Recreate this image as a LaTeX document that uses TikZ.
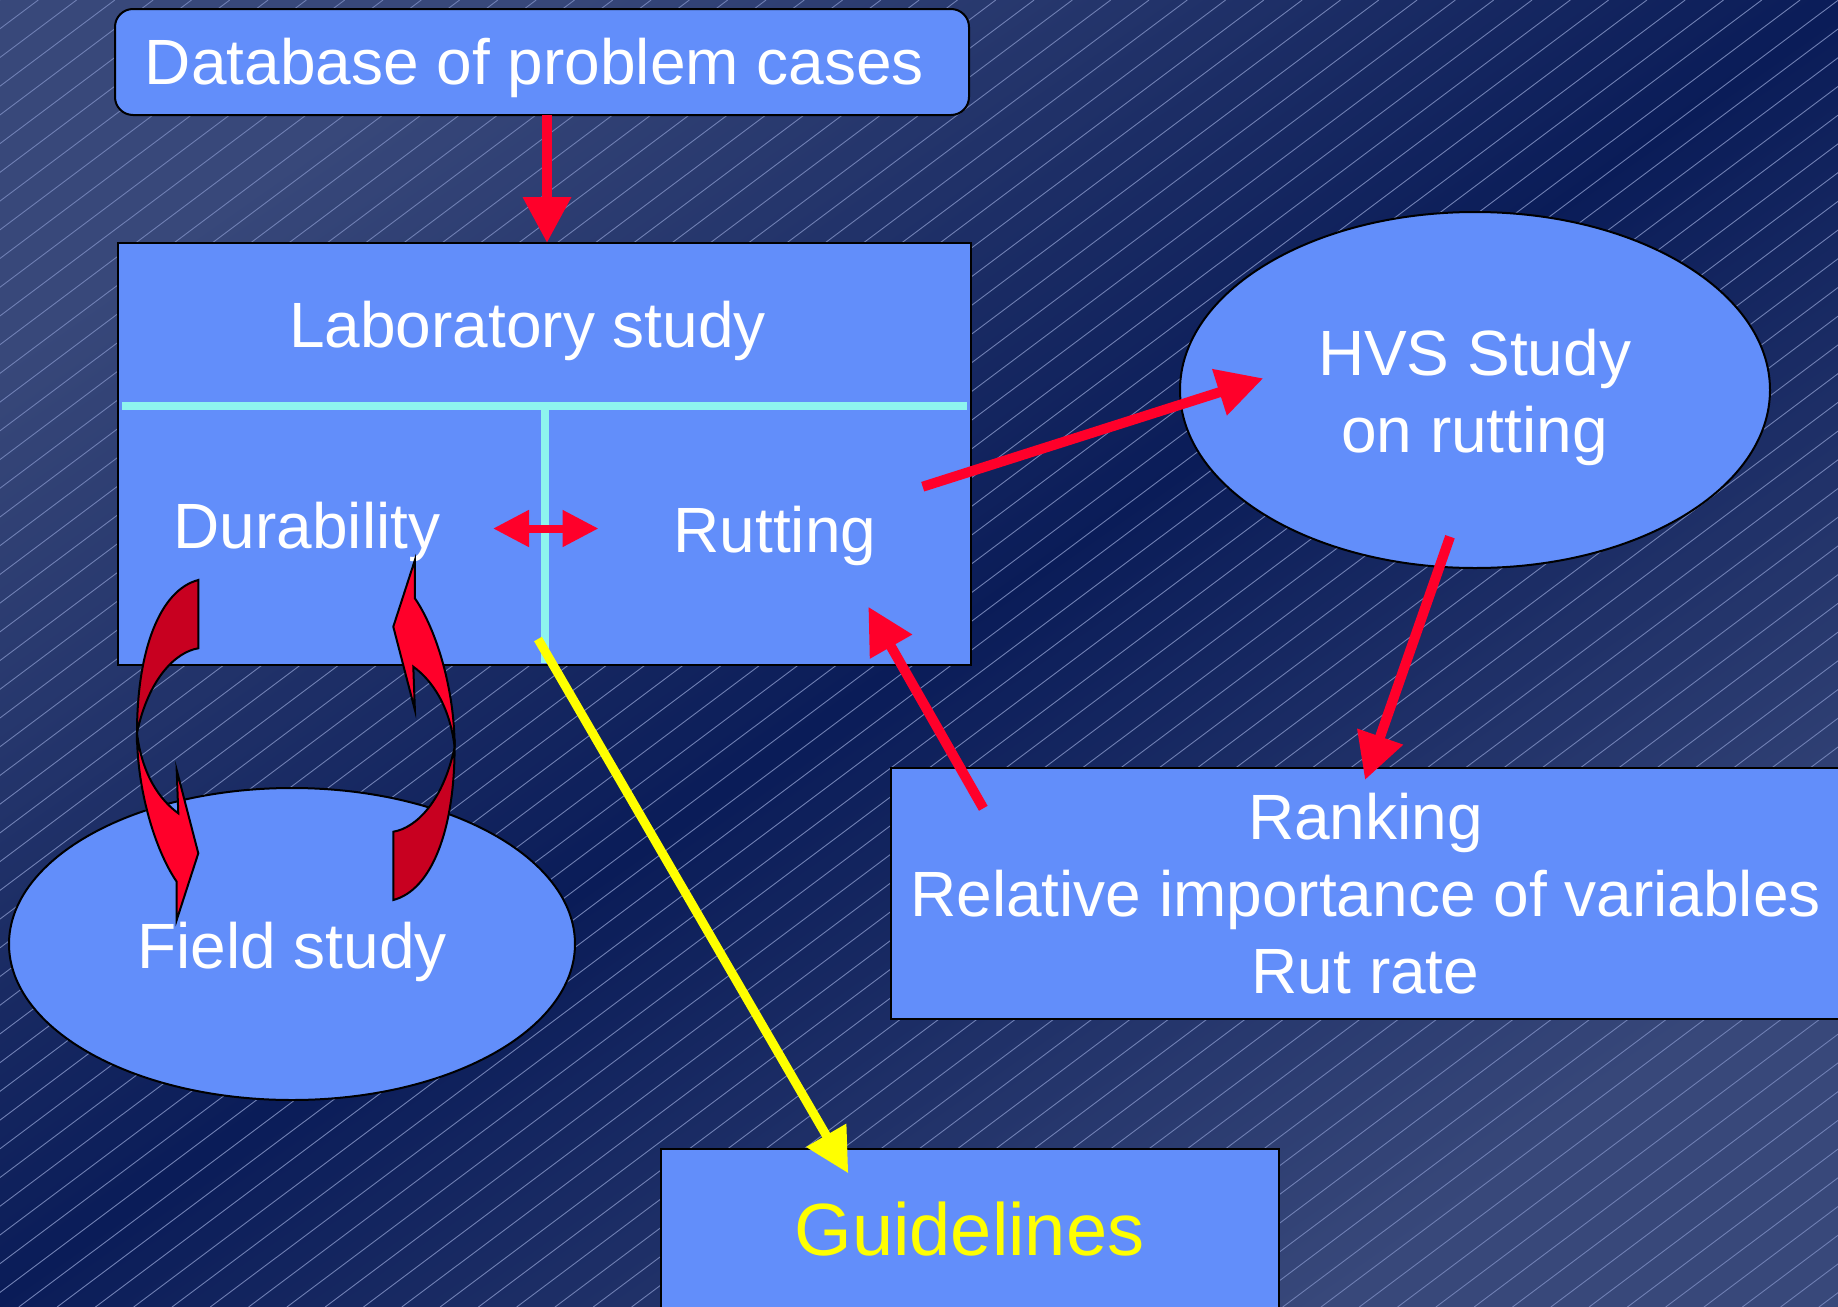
\documentclass[tikz,border=0pt]{standalone}
\usepackage{fontspec}
\setmainfont{Liberation Sans}
\usetikzlibrary{arrows.meta,shapes.geometric}
\definecolor{boxblue}{RGB}{98,142,250}
\definecolor{arrred}{RGB}{255,0,42}
\definecolor{darkred}{RGB}{200,0,32}
\definecolor{cyanline}{RGB}{142,244,238}
\definecolor{bglight}{RGB}{56,72,122}
\definecolor{bgdark}{RGB}{10,28,88}
\definecolor{yel}{RGB}{255,255,0}
\definecolor{hatchc}{RGB}{112,128,180}
\begin{document}
\begin{tikzpicture}[x=0.5pt,y=-0.5pt,
  boxshape/.style={draw=black, line width=1pt, fill=boxblue, inner sep=0pt, outer sep=0pt},
  ellshape/.style={ellipse, draw=black, line width=1pt, fill=boxblue, inner sep=0pt, outer sep=0pt},
  lbl/.style={text=white, font=\fontsize{32}{38.5}\selectfont, anchor=base, inner sep=0pt},
  redarrow/.style={draw=arrred, line width=5pt, -{Triangle[length=23pt,width=23pt]}},
  yelarrow/.style={draw=yel, line width=4.5pt, -{Triangle[length=22pt,width=22pt]}},
  divider/.style={draw=cyanline, line width=4pt},
  curvy/.style={draw=black, line width=1pt, line join=miter}]
\useasboundingbox (0,0) rectangle (1838,1307);
\clip (0,0) rectangle (1838,1307);
% background
\shade[top color=bglight, bottom color=bglight, middle color=bgdark, shading angle=35] (0,0) rectangle (1838,1307);
\foreach \i in {0,...,95} \draw[hatchc, line width=0.45pt] ({\i*38.3},0) -- ({\i*38.3-1743},1307);
% shapes
\node[boxshape, rounded corners=9pt, minimum width=427pt, minimum height=53pt] (db) at (542,62) {};
\node[boxshape, minimum width=426.5pt, minimum height=211pt] (lab) at (544.5,454) {};
\draw[divider] (122,406) -- (967,406);
\draw[divider] (544.5,406) -- (544.5,663);
\node[ellshape, minimum width=295pt, minimum height=178pt] (hvs) at (1475,390) {};
\node[boxshape, minimum width=475pt, minimum height=125.5pt] (rank) at (1366,893.5) {};
\node[ellshape, minimum width=283pt, minimum height=156pt] (field) at (292,944) {};
\node[boxshape, minimum width=309pt, minimum height=90pt] (guide) at (970,1239) {};
% texts
\node[lbl] (dbT) at (534.5,84) {Database of problem cases};
\node[lbl] (labT) at (527.5,347) {Laboratory study};
\node[lbl] (durT) at (307,548) {Durability};
\node[lbl] (rutT) at (775,552) {Rutting};
\node[lbl, align=center] (hvsT) at (1474.6,452.5) {HVS Study\\on rutting};
\node[lbl, align=center] (rankT) at (1365.6,993) {Ranking\\Relative importance of variables\\Rut rate};
\node[lbl] (fieldT) at (292,968) {Field study};
\node[lbl, text=yel, font=\fontsize{37}{44}\selectfont] (guideT) at (969.4,1255) {Guidelines};
% connector end points
\coordinate (dbOut) at (547,115);
\coordinate (labIn) at (547,243);
\coordinate (durR) at (493,528.5);
\coordinate (rutL) at (598.5,528.5);
\coordinate (rutOut) at (922.7,486.7);
\coordinate (hvsIn) at (1263.3,378.3);
\coordinate (hvsOut) at (1450,536.7);
\coordinate (rankIn) at (1365,780);
\coordinate (rankOut) at (983.3,808.3);
\coordinate (rutIn) at (868.3,606.7);
\coordinate (labOut) at (538,639);
\coordinate (guideIn) at (848.3,1173.3);
% connectors
\draw[redarrow] (dbOut) -- (labIn);
\draw[draw=arrred, line width=4pt, {Triangle[length=18pt,width=17.5pt]}-{Triangle[length=18pt,width=17.5pt]}] (durR) -- (rutL);
\draw[redarrow] (rutOut) -- (hvsIn);
\draw[redarrow] (hvsOut) -- (rankIn);
\draw[redarrow] (rankOut) -- (rutIn);
\draw[yelarrow] (labOut) -- (guideIn);
% curved arrows (left one, and the same turned half round)
\foreach \ang in {0,180} {
  \begin{scope}[rotate around={\ang:(295.8,740)}]
    \filldraw[curvy, fill=darkred] (198.3,580) -- (198.3,648.3)
      .. controls (175,652) and (148,680) .. (137,733)
      .. controls (137,650) and (160,590) .. (198.3,580) -- cycle;
    \filldraw[curvy, fill=arrred] (137,733)
      .. controls (137,790) and (155,850) .. (176.7,881.7)
      -- (176.7,920) -- (198.3,853.3) -- (176.7,770) -- (178.3,813.3)
      .. controls (160,800) and (142,775) .. (137,733) -- cycle;
  \end{scope}
}
\end{tikzpicture}
\end{document}
